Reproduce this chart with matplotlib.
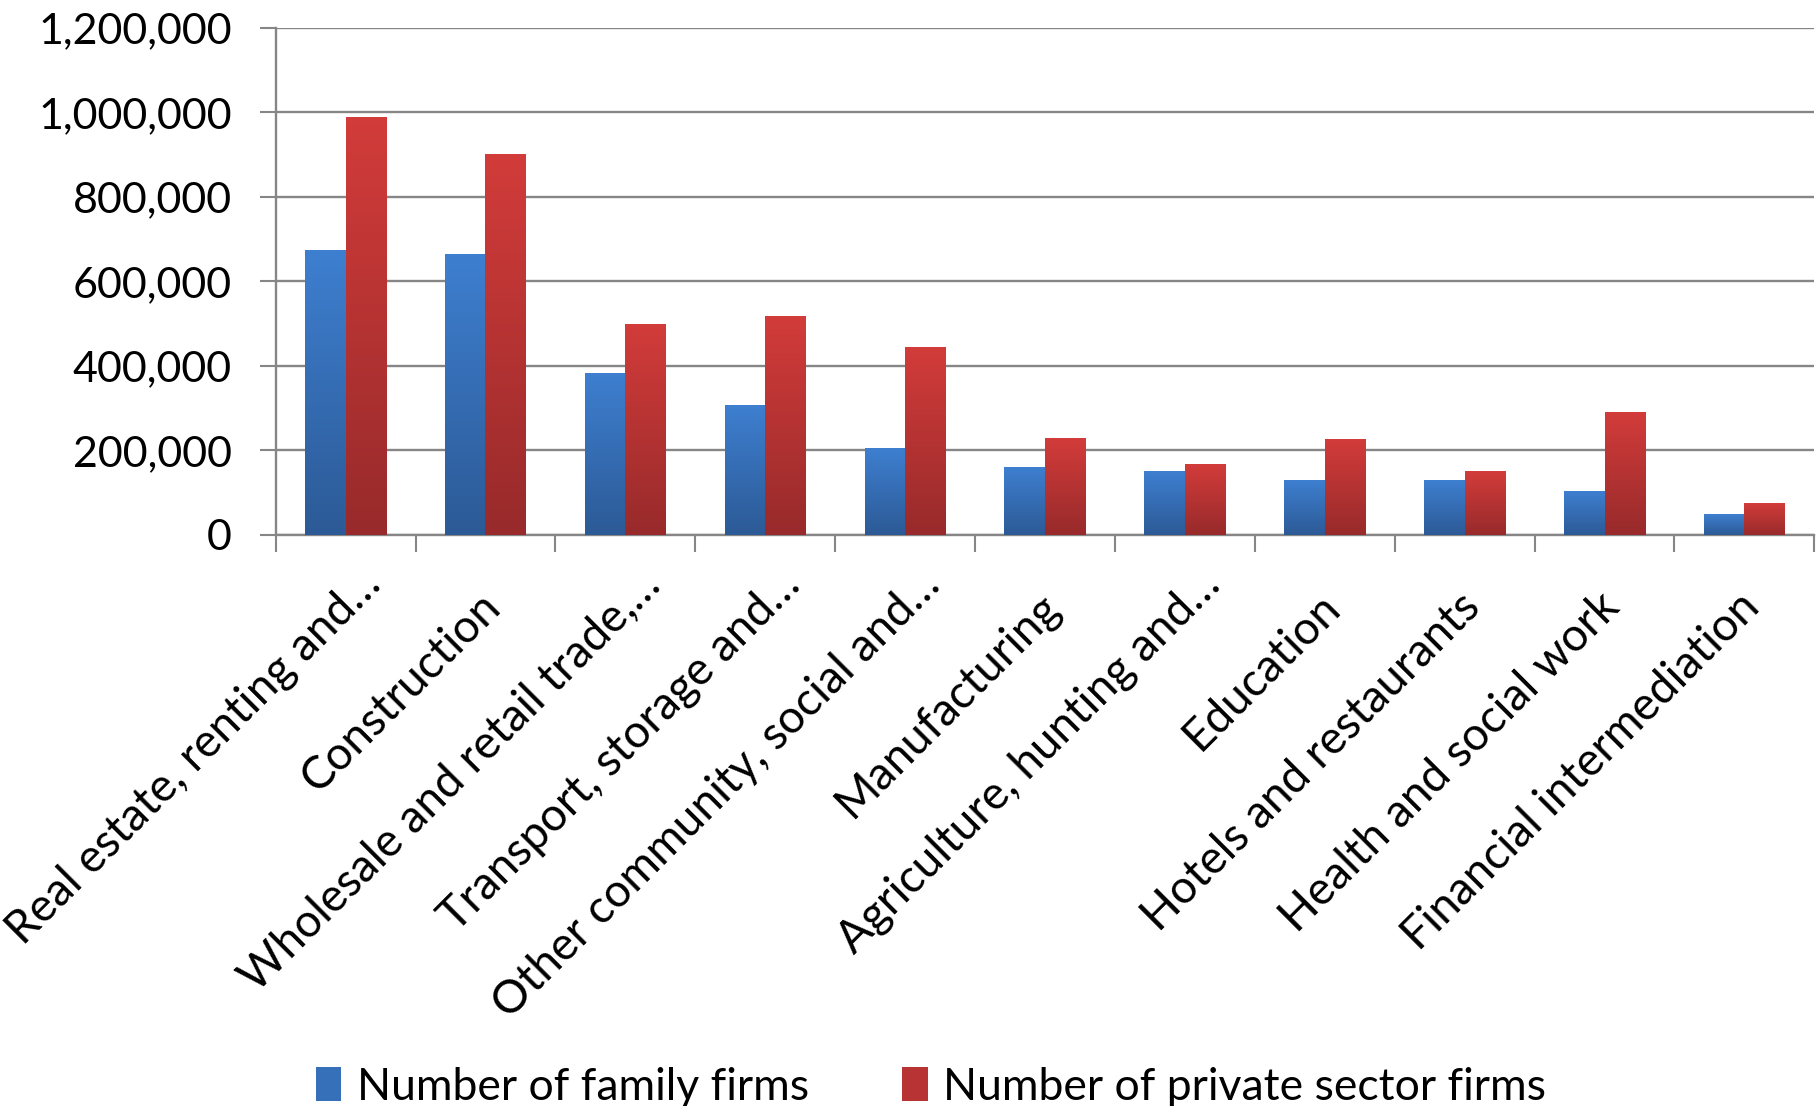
import numpy as np
import matplotlib
matplotlib.use("Agg")
import matplotlib.pyplot as plt
import matplotlib.transforms as mtransforms
from matplotlib.colors import LinearSegmentedColormap
from matplotlib.ticker import FuncFormatter, FixedLocator

plt.rcParams['font.family'] = ['Lato', 'DejaVu Sans']

categories = [
    "Real estate, renting and\u2026",
    "Construction",
    "Wholesale and retail trade,\u2026",
    "Transport, storage and\u2026",
    "Other community, social and\u2026",
    "Manufacturing",
    "Agriculture, hunting and\u2026",
    "Education",
    "Hotels and restaurants",
    "Health and social work",
    "Financial intermediation",
]
family_firms = [672600, 663200, 382200, 306300, 205100, 160300, 150200, 129100, 129100, 103000, 48900]
private_firms = [987300, 899500, 497800, 516500, 443900, 228700, 167100, 226200, 150200, 290300, 75100]
series_names = ["Number of family firms", "Number of private sector firms"]
y_ticks = [0, 200000, 400000, 600000, 800000, 1000000, 1200000]

blue_top, blue_bot = "#3e7fd0", "#2c5a96"
red_top, red_bot = "#d23c3a", "#982a2b"

fig = plt.figure(figsize=(18.16, 11.06), dpi=100)
ax = fig.add_axes([0.1518, 0.5163, 0.8473, 0.4586])

x = np.arange(len(categories))
w = 0.29
b1 = ax.bar(x - w / 2, family_firms, w, color="#3570b8", label=series_names[0], zorder=2)
b2 = ax.bar(x + w / 2, private_firms, w, color="#b83434", label=series_names[1], zorder=2)


def gradient(ax, bars, top, bot):
    cmap = LinearSegmentedColormap.from_list("g", [bot, top])
    grad = np.linspace(0, 1, 256).reshape(-1, 1)
    for bar in bars:
        bx, by = bar.get_x(), bar.get_y()
        bw, bh = bar.get_width(), bar.get_height()
        ax.imshow(grad, cmap=cmap, origin="lower", aspect="auto",
                  extent=[bx, bx + bw, by, by + bh], zorder=3)


gradient(ax, b1, blue_top, blue_bot)
gradient(ax, b2, red_top, red_bot)

ax.set_xlim(-0.5, len(categories) - 0.5)
ax.set_ylim(0, 1200000)
ax.set_yticks(y_ticks)
ax.yaxis.set_major_formatter(FuncFormatter(lambda v, p: f"{int(v):,}"))
ax.grid(axis="y", color="#868686", linewidth=1.7, zorder=0)
ax.set_axisbelow(True)

for s in ["top", "right"]:
    ax.spines[s].set_visible(False)
for s in ["left", "bottom"]:
    ax.spines[s].set_color("#868686")
    ax.spines[s].set_linewidth(1.7)

ax.set_xticks(x)
ax.set_xticklabels(categories, rotation=45, ha="right", va="top", fontsize=33)
ax.xaxis.set_minor_locator(FixedLocator(np.arange(-0.5, len(categories), 1.0)))
ax.tick_params(axis="x", which="major", length=0, pad=36)
ax.tick_params(axis="x", which="minor", length=12, width=1.5, color="#868686")
ax.tick_params(axis="y", length=11.5, width=1.5, color="#868686", labelsize=31, pad=20)

# truncated labels sit a little higher/right than the full ones
for lab in ax.get_xticklabels():
    if lab.get_text().endswith("\u2026"):
        off = mtransforms.ScaledTranslation(0.43, 0.22, fig.dpi_scale_trans)
    else:
        off = mtransforms.ScaledTranslation(0.23, 0, fig.dpi_scale_trans)
    lab.set_transform(lab.get_transform() + off)

fig.legend(handles=[b1, b2], labels=series_names, loc="center",
           bbox_to_anchor=(0.5128, 0.017), ncol=2, frameon=False, fontsize=32,
           handlelength=0.57, handleheight=0.8, handletextpad=0.35, columnspacing=2.1,
           borderpad=0)

fig.savefig("out.png", dpi=100)
